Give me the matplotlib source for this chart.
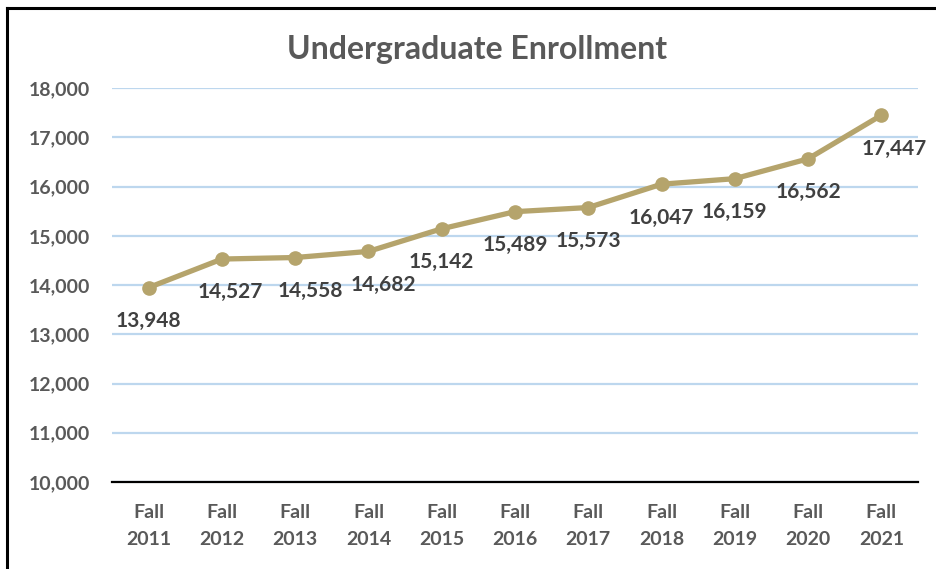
import matplotlib.pyplot as plt
from matplotlib.lines import Line2D
from matplotlib.ticker import FuncFormatter

years = ['Fall\n2011', 'Fall\n2012', 'Fall\n2013', 'Fall\n2014', 'Fall\n2015', 'Fall\n2016',
         'Fall\n2017', 'Fall\n2018', 'Fall\n2019', 'Fall\n2020', 'Fall\n2021']
enrollment = [13948, 14527, 14558, 14682, 15142, 15489, 15573, 16047, 16159, 16562, 17447]

# label nudges (points) to mimic Excel's placement
label_dx = [0, 6, 11, 11, 0, 0, 0, 0, 0, 0, 9]

plt.rcParams['font.family'] = ['Lato', 'DejaVu Sans']

W, H = 937, 569
fig = plt.figure(figsize=(W / 100, H / 100), dpi=100)
ax = fig.add_axes([112 / W, 1 - 482 / H, (918 - 112) / W, (482 - 88) / H])

x = list(range(len(years)))
ax.plot(x, enrollment, color='#B5A46C', lw=3.8, marker='o', ms=9.5, zorder=3)

for i, v in enumerate(enrollment):
    ax.annotate(f'{v:,}', (i, v), xytext=(label_dx[i], -24), textcoords='offset points',
                ha='center', va='center', fontsize=15, fontweight='bold', color='#404040')

ax.set_xlim(-0.5, len(years) - 0.5)
ax.set_ylim(10000, 18000)
ax.set_yticks(range(10000, 18001, 1000))
ax.yaxis.set_major_formatter(FuncFormatter(lambda v, p: f'{int(v):,}'))
ax.set_xticks(x)
ax.set_xticklabels(years, linespacing=1.72)

ax.grid(axis='y', color='#BDD7EE', lw=1.6)
ax.set_axisbelow(True)
for s in ['top', 'right', 'left']:
    ax.spines[s].set_visible(False)
ax.spines['bottom'].set_color('black')
ax.spines['bottom'].set_linewidth(1.6)
ax.spines['bottom'].set_zorder(2)

ax.tick_params(axis='both', length=0, labelsize=14, labelcolor='#595959')
ax.tick_params(axis='y', pad=16)
ax.tick_params(axis='x', pad=16)
for t in ax.get_xticklabels() + ax.get_yticklabels():
    t.set_fontweight('bold')

fig.text(477 / W, 1 - 50 / H, 'Undergraduate Enrollment', ha='center', va='center',
         fontsize=23, fontweight='bold', color='#595959')

# outer frame (left and top edges visible in the reference)
fig.add_artist(Line2D([7 / W, 7 / W], [0, 1 - 8 / H], color='black', lw=2.2, transform=fig.transFigure))
fig.add_artist(Line2D([7 / W, 1], [1 - 8 / H, 1 - 8 / H], color='black', lw=2.2, transform=fig.transFigure))

plt.savefig('out.png', dpi=100)
plt.close()
